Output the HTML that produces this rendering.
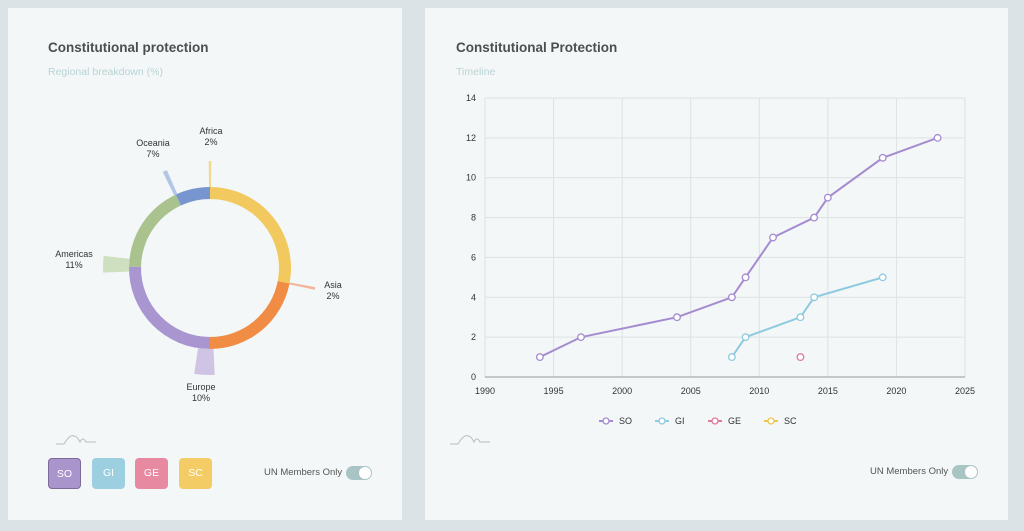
<!DOCTYPE html>
<html><head><meta charset="utf-8"><style>
body{margin:0;width:1024px;height:531px;background:#dce3e7;font-family:"Liberation Sans",sans-serif;position:relative;overflow:hidden}
.card{position:absolute;background:#f3f7f8;top:8px;height:512px}
.title{position:absolute;left:40px;top:32px;font-size:13.5px;font-weight:bold;color:#4a4f52}
.sub{position:absolute;left:40px;top:58px;font-size:10.5px;color:#b9d3d3}
.btn{position:absolute;top:450px;width:33px;height:31px;border-radius:4px;color:#fff;font-size:10.5px;text-align:center;line-height:31px}
.tog{position:absolute;font-size:9.5px;color:#555;}
.sw{position:absolute;width:26px;height:14px;border-radius:7px;background:#a9c4c4}
.sw::after{content:"";position:absolute;right:1px;top:1px;width:12px;height:12px;border-radius:6px;background:#fff}
svg text{font-family:"Liberation Sans",sans-serif}
</style></head><body>
<div class="card" style="left:8px;width:394px">
 <div class="title">Constitutional protection</div>
 <div class="sub">Regional breakdown (%)</div>
 <div class="btn" style="left:40px;background:#a994cc;border:1px solid #7c6a99;box-sizing:border-box">SO</div>
 <div class="btn" style="left:84px;background:#9ccfe0">GI</div>
 <div class="btn" style="left:127px;background:#e889a2">GE</div>
 <div class="btn" style="left:171px;background:#f3cc66">SC</div>
 <div class="tog" style="left:256px;top:459px">UN Members Only</div>
 <div class="sw" style="left:338px;top:458px"></div>
</div>
<div class="card" style="left:425px;width:583px">
 <div class="title" style="left:31px">Constitutional Protection</div>
 <div class="sub" style="left:31px">Timeline</div>
 <div class="tog" style="left:445px;top:458px">UN Members Only</div>
 <div class="sw" style="left:527px;top:457px"></div>
</div>
<svg id="s" width="1024" height="531" style="position:absolute;left:0;top:0">
 <g fill="none" stroke="#bbb" stroke-width="1">
  <path d="M56 444 h8 q6-10 10-8 q3 0 6 6 q3-6 6 0 h10"/>
  <path d="M450 444 h8 q6-10 10-8 q3 0 6 6 q3-6 6 0 h10"/>
 </g>
</svg>
<script>
const regions=["Africa","Asia","Europe","Americas","Oceania"];
const regionPct=[2,2,10,11,7];
const segLabels=["SC","GE","SO","GI","OC"];
const segStarts=[0,101,180,271,335];
const years=[1990,1995,2000,2005,2010,2015,2020,2025];
const yTicks=[0,2,4,6,8,10,12,14];
const soX=[1994,1997,2004,2008,2009,2011,2014,2015,2019,2023];
const soY=[1,2,3,4,5,7,8,9,11,12];
const giX=[2008,2009,2013,2014,2019];
const giY=[1,2,3,4,5];
const geX=[2013];
const geY=[1];
const seriesNames=["SO","GI","GE","SC"];
const NS="http://www.w3.org/2000/svg";
const svg=document.getElementById('s');
function mk(t,a,p){const e=document.createElementNS(NS,t);for(const k in a)e.setAttribute(k,a[k]);(p||svg).appendChild(e);return e;}
const cx=210,cy=268,ro=81,ri=69;
const segColors=["#f2c95e","#f08c44","#a995d0","#aac38e","#7796d0"];
function pt(a,r){const t=(a-90)*Math.PI/180;return [cx+r*Math.cos(t),cy+r*Math.sin(t)];}
function arc(a0,a1,r0,r1){const large=(a1-a0)>180?1:0;const p1=pt(a0,r1),p2=pt(a1,r1),p3=pt(a1,r0),p4=pt(a0,r0);
 return `M${p1} A${r1} ${r1} 0 ${large} 1 ${p2} L${p3} A${r0} ${r0} 0 ${large} 0 ${p4}Z`;}
for(let i=0;i<segStarts.length;i++){const a0=segStarts[i],a1=i+1<segStarts.length?segStarts[i+1]:360;
 const e=mk('path',{d:arc(a0,a1,ri,ro),fill:segColors[i]});
 
 }
const spikeAng=[0,101,183,272,335];
const spikeHalf=[0.7,0.7,5.5,4.5,1.2];
const spikeCol=["#f2d890","#f2b59a","#cfc4e4","#cfe0c0","#b4c6e6"];
const labelPos=[[211,134],[333,288],[201,390],[74,257],[153,146]];
regions.forEach((r,i)=>{
 const e=mk('path',{d:arc(spikeAng[i]-spikeHalf[i],spikeAng[i]+spikeHalf[i],ro,107),fill:spikeCol[i]});
 
 
 const t=mk('text',{x:labelPos[i][0],y:labelPos[i][1],'font-size':9,'text-anchor':'middle',fill:'#333'});
 
 
 t.innerHTML=`<tspan x="${labelPos[i][0]}">${r}</tspan><tspan x="${labelPos[i][0]}" dy="11">${regionPct[i]}%</tspan>`;});
const X0=485,X1=965,Y0=377,Y1=98;
const xs=v=>X0+(v-1990)/35*(X1-X0), ys=v=>Y0-v/14*(Y0-Y1);
years.forEach(y=>{const l=mk('line',{x1:xs(y),x2:xs(y),y1:Y1,y2:Y0,stroke:'#dde2e2'});
 
 const t=mk('text',{x:xs(y),y:Y0+17,'font-size':9,'text-anchor':'middle',fill:'#333'});t.textContent=y;
 });
yTicks.forEach(v=>{const l=mk('line',{x1:X0,x2:X1,y1:ys(v),y2:ys(v),stroke:'#dde2e2'});
 
 const t=mk('text',{x:X0-9,y:ys(v)+3,'font-size':9,'text-anchor':'end',fill:'#333'});t.textContent=v;
 });
const ax=mk('line',{x1:X0,x2:X1,y1:Y0,y2:Y0,stroke:'#999'});

const colors=["#a58bd0","#8ecbe0","#e07a98","#f0c450"];
[[soX,soY],[giX,giY],[geX,geY]].forEach((s,k)=>{
 if(s[0].length>1){const p=mk('polyline',{points:s[0].map((x,i)=>xs(x)+','+ys(s[1][i])).join(' '),fill:'none',stroke:colors[k],'stroke-width':2});
 }
 s[0].forEach((x,i)=>{const c=mk('circle',{cx:xs(x),cy:ys(s[1][i]),r:3.3,fill:'#fff',stroke:colors[k],'stroke-width':1.3});
 });});
const legX=[599,655,708,764];
seriesNames.forEach((n,i)=>{const g=mk('g',{});
 
 mk('line',{x1:legX[i],x2:legX[i]+14,y1:421,y2:421,stroke:colors[i],'stroke-width':2},g);
 mk('circle',{cx:legX[i]+7,cy:421,r:3,fill:'#fff',stroke:colors[i],'stroke-width':1.3},g);
 const t=mk('text',{x:legX[i]+20,y:424,'font-size':9,fill:'#333'},g);t.textContent=n;});
</script>
</body></html>
